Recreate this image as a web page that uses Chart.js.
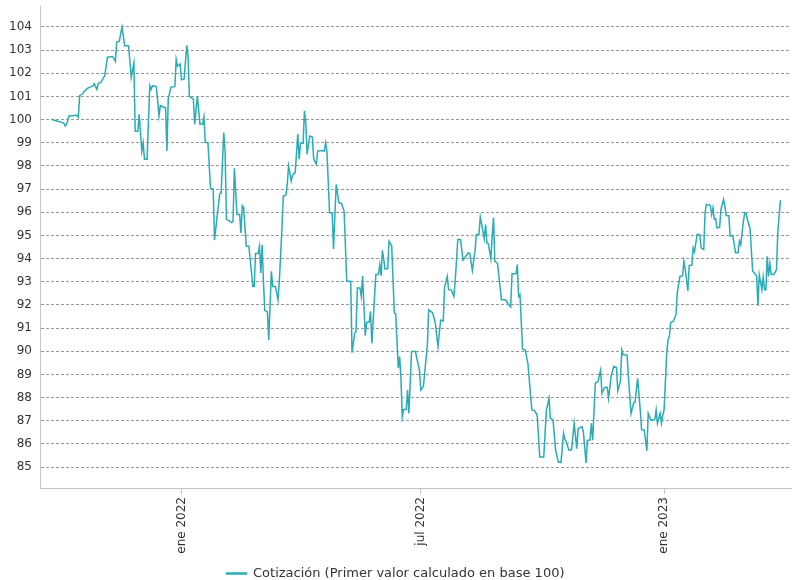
<!DOCTYPE html>
<html><head><meta charset="utf-8">
<script src="https://cdn.jsdelivr.net/npm/chart.js@4/dist/chart.umd.min.js"></script>
<style>html,body{margin:0;padding:0;background:#fff}#wrap{width:792px;height:580px}</style>
</head><body><div id="wrap"><canvas id="c" width="792" height="580"></canvas></div>
<script>
const dates = [
'2021-09-25','2021-10-04','2021-10-05','2021-10-06','2021-10-08','2021-10-14','2021-10-15','2021-10-16','2021-10-18','2021-10-20',
'2021-10-22','2021-10-24','2021-10-26','2021-10-27','2021-10-29','2021-10-30','2021-11-01','2021-11-04','2021-11-05','2021-11-06',
'2021-11-10','2021-11-12','2021-11-13','2021-11-15','2021-11-17','2021-11-19','2021-11-22','2021-11-24','2021-11-26','2021-11-27',
'2021-11-29','2021-11-30','2021-12-02','2021-12-03','2021-12-04','2021-12-06','2021-12-08','2021-12-09','2021-12-10','2021-12-13',
'2021-12-15','2021-12-16','2021-12-18','2021-12-20','2021-12-21','2021-12-22','2021-12-24','2021-12-27','2021-12-28','2021-12-29',
'2021-12-31','2022-01-01','2022-01-03','2022-01-05','2022-01-06','2022-01-07','2022-01-10','2022-01-11','2022-01-13','2022-01-15',
'2022-01-17','2022-01-18','2022-01-19','2022-01-21','2022-01-23','2022-01-25','2022-01-26','2022-01-28','2022-01-30','2022-01-31',
'2022-02-02','2022-02-03','2022-02-04','2022-02-08','2022-02-09','2022-02-10','2022-02-12','2022-02-14','2022-02-15','2022-02-16',
'2022-02-17','2022-02-19','2022-02-21','2022-02-24','2022-02-25','2022-02-26','2022-02-28','2022-03-01','2022-03-02','2022-03-03',
'2022-03-04','2022-03-05','2022-03-07','2022-03-08','2022-03-10','2022-03-11','2022-03-13','2022-03-15','2022-03-16','2022-03-18',
'2022-03-19','2022-03-21','2022-03-22','2022-03-23','2022-03-25','2022-03-26','2022-03-28','2022-03-30','2022-03-31','2022-04-01',
'2022-04-03','2022-04-04','2022-04-05','2022-04-06','2022-04-08','2022-04-10','2022-04-11','2022-04-13','2022-04-14','2022-04-17',
'2022-04-19','2022-04-20','2022-04-21','2022-04-23','2022-04-25','2022-04-26','2022-04-28','2022-04-30','2022-05-02','2022-05-04',
'2022-05-06','2022-05-09','2022-05-10','2022-05-12','2022-05-13','2022-05-14','2022-05-16','2022-05-17','2022-05-18','2022-05-20',
'2022-05-21','2022-05-23','2022-05-24','2022-05-25','2022-05-28','2022-05-30','2022-05-31','2022-06-01','2022-06-02','2022-06-04',
'2022-06-06','2022-06-07','2022-06-09','2022-06-11','2022-06-12','2022-06-14','2022-06-15','2022-06-16','2022-06-17','2022-06-18',
'2022-06-20','2022-06-21','2022-06-22','2022-06-24','2022-06-27','2022-06-28','2022-06-30','2022-07-01','2022-07-02','2022-07-03',
'2022-07-06','2022-07-07','2022-07-10','2022-07-12','2022-07-14','2022-07-16','2022-07-18','2022-07-19','2022-07-21','2022-07-22',
'2022-07-24','2022-07-26','2022-07-27','2022-07-29','2022-07-31','2022-08-02','2022-08-04','2022-08-06','2022-08-07','2022-08-09',
'2022-08-11','2022-08-12','2022-08-14','2022-08-15','2022-08-16','2022-08-18','2022-08-19','2022-08-20','2022-08-21','2022-08-23',
'2022-08-24','2022-08-25','2022-08-26','2022-08-28','2022-08-31','2022-09-03','2022-09-05','2022-09-07','2022-09-08','2022-09-11',
'2022-09-12','2022-09-13','2022-09-14','2022-09-16','2022-09-18','2022-09-20','2022-09-23','2022-09-25','2022-09-27','2022-09-29',
'2022-10-02','2022-10-04','2022-10-06','2022-10-07','2022-10-09','2022-10-11','2022-10-13','2022-10-15','2022-10-17','2022-10-18',
'2022-10-19','2022-10-21','2022-10-23','2022-10-25','2022-10-27','2022-10-28','2022-10-31','2022-11-01','2022-11-03','2022-11-04',
'2022-11-06','2022-11-07','2022-11-08','2022-11-10','2022-11-12','2022-11-14','2022-11-15','2022-11-17','2022-11-19','2022-11-20',
'2022-11-22','2022-11-24','2022-11-26','2022-11-27','2022-11-29','2022-11-30','2022-12-01','2022-12-04','2022-12-05','2022-12-07',
'2022-12-09','2022-12-10','2022-12-12','2022-12-14','2022-12-15','2022-12-17','2022-12-19','2022-12-20','2022-12-22','2022-12-25',
'2022-12-26','2022-12-27','2022-12-29','2022-12-30','2022-12-31','2023-01-01','2023-01-03','2023-01-04','2023-01-05','2023-01-06',
'2023-01-08','2023-01-10','2023-01-11','2023-01-13','2023-01-15','2023-01-16','2023-01-17','2023-01-19','2023-01-20','2023-01-22',
'2023-01-23','2023-01-24','2023-01-26','2023-01-28','2023-01-29','2023-01-31','2023-02-01','2023-02-02','2023-02-05','2023-02-06',
'2023-02-07','2023-02-08','2023-02-09','2023-02-10','2023-02-12','2023-02-13','2023-02-15','2023-02-16','2023-02-17','2023-02-19',
'2023-02-20','2023-02-22','2023-02-24','2023-02-26','2023-02-27','2023-02-28','2023-03-02','2023-03-03','2023-03-04','2023-03-05',
'2023-03-07','2023-03-09','2023-03-10','2023-03-12','2023-03-13','2023-03-14','2023-03-16','2023-03-17','2023-03-18','2023-03-19',
'2023-03-20','2023-03-21','2023-03-22','2023-03-23','2023-03-25','2023-03-27','2023-03-28','2023-03-30'
];
const values = [
100.0,99.85,99.72,99.78,100.15,100.18,100.1,101.03,101.1,101.25,
101.35,101.4,101.45,101.55,101.3,101.55,101.6,101.9,102.3,102.69,
102.72,102.5,103.34,103.38,103.99,103.19,103.19,101.82,102.44,99.5,
99.5,100.23,98.64,99.0,98.29,98.29,101.46,101.3,101.46,101.42,
100.16,100.6,100.55,100.5,98.64,100.88,101.4,101.42,102.6,102.3,
102.4,101.72,101.75,103.2,102.7,101.0,100.88,99.8,101.0,99.8,
99.8,100.12,99.02,99.0,97.02,97.0,94.8,95.85,96.8,96.84,
99.44,98.6,95.7,95.55,95.6,97.9,95.9,95.9,95.11,96.28,
96.2,94.53,94.53,92.8,92.8,94.22,94.22,94.53,93.38,94.6,
93.02,91.76,91.7,90.49,93.45,92.8,92.8,92.22,93.0,95.33,
96.7,96.75,97.2,97.99,97.35,97.6,97.71,99.37,98.29,98.98,
98.98,100.38,99.87,98.5,99.29,99.25,98.29,98.07,98.64,98.66,
98.64,99.0,98.64,95.98,95.95,94.41,97.2,96.41,96.38,96.05,
93.02,93.02,89.94,90.78,90.85,92.73,92.73,92.37,93.26,90.67,
91.24,91.26,91.72,90.35,93.31,93.31,93.74,93.26,94.36,93.55,
93.58,94.75,94.55,91.65,91.62,89.27,89.77,88.83,87.17,87.49,
87.49,88.33,87.32,89.99,89.99,89.7,89.19,88.33,88.4,88.5,
90.28,91.79,91.65,91.22,90.2,91.35,91.3,92.77,93.23,92.66,
92.65,92.37,93.02,94.82,94.82,93.93,94.1,94.25,94.22,93.49,
94.32,95.04,95.04,95.8,95.5,94.85,95.47,94.68,94.65,93.99,
94.97,95.76,93.88,93.8,92.22,92.22,92.05,91.91,93.35,93.35,
93.74,92.37,92.45,90.09,90.05,89.48,87.46,87.45,87.25,85.44,
85.44,87.46,87.97,87.1,87.05,85.73,85.23,85.2,86.46,86.2,
86.1,85.73,85.75,86.89,85.8,86.67,86.74,86.5,85.18,86.16,
86.17,86.89,86.16,88.62,88.69,89.19,88.18,88.44,88.45,87.97,
88.94,89.34,89.3,88.3,88.7,90.06,89.85,89.84,88.91,87.32,
87.78,87.8,88.83,87.46,86.62,86.6,85.7,87.32,87.03,87.05,
87.46,86.89,87.32,86.89,87.25,87.46,89.91,90.49,90.64,91.24,
91.3,91.58,92.52,93.23,93.25,93.88,93.55,92.6,93.7,93.72,
94.46,94.3,95.04,95.04,94.46,94.39,95.98,96.34,96.3,95.9,
96.19,95.69,95.72,95.33,95.35,96.12,96.55,96.25,95.86,95.85,
94.97,95.0,94.25,94.25,94.75,94.6,95.61,95.98,95.95,95.7,
95.3,93.45,93.4,93.25,91.97,93.3,92.66,93.2,92.66,92.66,
94.1,93.23,93.8,93.31,93.31,93.52,95.11,96.52
];
const seriesLabel = 'Cotización (Primer valor calculado en base 100)';
const xTickDates = ['2022-01-01','2022-07-01','2023-01-01'];
const xTickLabels = ['ene 2022','jul 2022','ene 2023'];
const yTickValues = [85,86,87,88,89,90,91,92,93,94,95,96,97,98,99,100,101,102,103,104];
const xRange = ['2021-09-16','2023-04-07'];
const yRange = [84.1, 104.9];

const toDay = s => Date.UTC(+s.slice(0,4), +s.slice(5,7)-1, +s.slice(8,10)) / 86400000;
const points = dates.map((d,i) => ({x: toDay(d), y: values[i]}));
const FONT = {family: '"DejaVu Sans", Verdana, sans-serif', size: 12};
const LEGEND_FONT = {family: '"DejaVu Sans", Verdana, sans-serif', size: 13};
const TEAL = '#29acb5';

new Chart(document.getElementById('c'), {
  type: 'line',
  data: { datasets: [{
    label: seriesLabel, data: points,
    borderColor: TEAL, backgroundColor: TEAL, borderWidth: 1.5,
    pointRadius: 0, pointHoverRadius: 0, tension: 0, fill: false
  }]},
  options: {
    responsive: false, animation: false, devicePixelRatio: 1,
    layout: { padding: { top: 6, right: 1, left: 0, bottom: -10 } },
    plugins: {
      tooltip: { enabled: false },
      legend: { position: 'bottom',
        labels: { boxWidth: 20, boxHeight: 1, padding: 2, font: LEGEND_FONT, color: '#333' } }
    },
    scales: {
      x: { type: 'linear', min: toDay(xRange[0]), max: toDay(xRange[1]),
        afterBuildTicks: ax => { ax.ticks = xTickDates.map(d => ({value: toDay(d)})); },
        afterFit: sc => { sc.height = 77; sc.paddingLeft = 0; sc.paddingRight = 0; },
        ticks: { autoSkip: false, minRotation: 90, maxRotation: 90, font: FONT, color: '#333', padding: 3,
          callback: (v, i) => xTickLabels[i] },
        grid: { drawOnChartArea: false, drawTicks: true, tickLength: 6, color: '#c4c4c4' },
        border: { color: '#c4c4c4', width: 1 }
      },
      y: { min: yRange[0], max: yRange[1],
        afterBuildTicks: ax => { ax.ticks = yTickValues.map(v => ({value: v})); },
        afterFit: sc => { sc.width = 40; sc.paddingTop = 0; sc.paddingBottom = 0; },
        ticks: { font: FONT, color: '#333', padding: 8 },
        grid: { color: '#999', drawTicks: false, lineWidth: 1 },
        border: { color: '#c4c4c4', width: 1, dash: [3, 2] }
      }
    }
  }
});
</script></body></html>
